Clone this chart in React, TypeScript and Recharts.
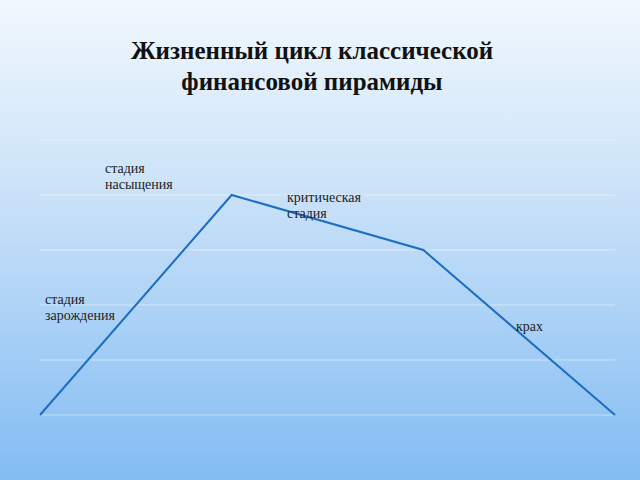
import { LineChart, Line, XAxis, YAxis, CartesianGrid } from "recharts"

const stages = ["зарождение", "насыщение", "критическая", "крах"]
const levels = [0, 4, 3, 0]
const yTicks = [0, 1, 2, 3, 4, 5]

const titleLines = ["Жизненный цикл классической", "финансовой пирамиды"]

const notes = [
  { text: ["стадия", "насыщения"], left: 105, top: 161 },
  { text: ["критическая", "стадия"], left: 287, top: 190 },
  { text: ["стадия", "зарождения"], left: 45, top: 292 },
  { text: ["крах"], left: 516, top: 319 },
]

const data = stages.map((stage, i) => ({ stage, value: levels[i] }))

export default function App() {
  return (
    <div
      style={{
        position: "absolute",
        top: 0,
        left: 0,
        width: 640,
        height: 480,
        overflow: "hidden",
        background: "linear-gradient(180deg, #f1f8fe 0%, #d0e5f9 35%, #a7cff6 70%, #82bcf3 100%)",
        fontFamily: "'Liberation Serif', serif",
      }}
    >
      <div
        style={{
          position: "absolute",
          top: 35,
          left: 0,
          width: 624,
          textAlign: "center",
          fontWeight: "bold",
          fontSize: 25,
          lineHeight: "31px",
          color: "#111",
        }}
      >
        {titleLines.map((t) => (
          <div key={t}>{t}</div>
        ))}
      </div>

      <LineChart
        width={640}
        height={480}
        data={data}
        margin={{ top: 140, right: 25, bottom: 65, left: 40 }}
        style={{ position: "absolute", top: 0, left: 0 }}
      >
        <CartesianGrid vertical={false} stroke="#ffffff" strokeOpacity={0.45} />
        <XAxis dataKey="stage" hide />
        <YAxis hide domain={[0, 5]} ticks={yTicks} />
        <Line
          type="linear"
          dataKey="value"
          stroke="#1c6dc4"
          strokeWidth={2}
          dot={false}
          isAnimationActive={false}
        />
      </LineChart>

      {notes.map((n) => (
        <div
          key={n.text.join(" ")}
          style={{
            position: "absolute",
            left: n.left,
            top: n.top,
            fontSize: 14,
            lineHeight: "16px",
            color: "#222",
          }}
        >
          {n.text.map((t) => (
            <div key={t}>{t}</div>
          ))}
        </div>
      ))}
    </div>
  )
}
